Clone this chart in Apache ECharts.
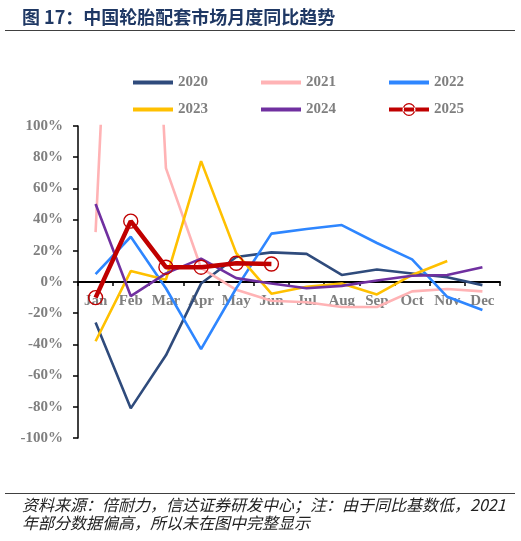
<!DOCTYPE html>
<html><head><meta charset="utf-8">
<script src="https://cdn.jsdelivr.net/npm/echarts@6/dist/echarts.min.js"></script>
<style>html,body{margin:0;padding:0;background:#fff}#c{width:521px;height:541px}</style>
</head><body><div id="c"></div>
<script>
var months = ['Jan','Feb','Mar','Apr','May','Jun','Jul','Aug','Sep','Oct','Nov','Dec'];
var yTicks = [-100,-80,-60,-40,-20,0,20,40,60,80,100];
var s2020 = [-26,-81,-47,-1,16,19,18,4.5,8,5.5,3,-2];
var s2021 = [32,500,73,9,-5,-12,-13,-16,-16,-6,-4.5,-6];
var s2022 = [5,29,-4,-43,-4,31,34,36.5,25,14.5,-9.5,-18];
var s2023 = [-38,7,1.5,77.5,18.5,-7.5,-3,-1,-8,4.5,13.5,null];
var s2024 = [50,-9,5.5,15,2.5,-1,-4,-2.5,1,4,4.5,9.5];
var s2025 = [-10,39,9.5,9.5,12,11.5,null,null,null,null,null,null];
var seriesNames = ['2020','2021','2022','2023','2024','2025'];
var colors = ['#2F4B7C','#FFB3B5','#2E86FF','#FFC000','#7030A0','#C00000'];

var chart = echarts.init(document.getElementById('c'), null, {renderer:'canvas'});
var serif = 'Liberation Serif';
var gray = '#7F7F7F';
var dataSets = [s2020,s2021,s2022,s2023,s2024,s2025];
var series = dataSets.map(function(d,i){
  var is25 = i===5;
  return {
    name: seriesNames[i], type:'line', data:d, clip:true,
    symbol: is25 ? 'circle' : 'none',
    symbolSize: 14, showSymbol: is25,
    lineStyle:{color:colors[i], width: is25 ? 4.5 : 2.6},
    itemStyle:{color:'rgba(0,0,0,0)', borderColor:colors[i], borderWidth:1.4},
    z: is25 ? 10 : 2+i,
    emphasis:{disabled:true}
  };
});
var lineIcon = 'path://M0,0L0.01,0L0,0.01ZM0,5L40,5L40,9L0,9ZM0,14L0.01,14L0,13.99Z';
var ringIcon = 'path://M0,0L0.01,0L0,0.01ZM0,5L40,5L40,9L0,9ZM26.5,7A6.5,6.5 0 1,0 13.5,7A6.5,6.5 0 1,0 26.5,7ZM25.2,7A5.2,5.2 0 1,1 14.8,7A5.2,5.2 0 1,1 25.2,7ZM0,14L0.01,14L0,13.99Z';
function legendItems(names){
  return names.map(function(n){ return {name:n, icon: n==='2025' ? ringIcon : lineIcon, itemStyle:{color:colors[seriesNames.indexOf(n)], borderWidth:0}}; });
}
var legendText = {fontFamily:serif, fontWeight:'bold', fontSize:15, color:gray, width:40};
chart.setOption({
  animation:false,
  color: colors,
  title:[{
    text:'图 17：中国轮胎配套市场月度同比趋势', left:17, top:3,
    textStyle:{fontFamily:'Noto Sans CJK SC', fontWeight:'bold', fontSize:18, color:'#1F3864'}
  },{
    text:'资料来源：倍耐力，信达证券研发中心；注：由于同比基数低，2021\n年部分数据偏高，所以未在图中完整显示', left:17, top:491,
    textStyle:{fontFamily:'Noto Sans CJK SC', fontWeight:'normal', fontSize:16, color:'#222', lineHeight:18, fontStyle:'italic'}
  }],
  graphic:[
    {type:'line', shape:{x1:5,y1:30.5,x2:515,y2:30.5}, style:{stroke:'#404040', lineWidth:1}},
    {type:'line', shape:{x1:5,y1:493.5,x2:515,y2:493.5}, style:{stroke:'#404040', lineWidth:1}}
  ],
  legend:[{
    left:128, top:70, itemWidth:40, itemHeight:14, itemGap:53,
    textStyle:legendText, data: legendItems(seriesNames.slice(0,3))
  },{
    left:128, top:97, itemWidth:40, itemHeight:14, itemGap:53,
    textStyle:legendText, data: legendItems(seriesNames.slice(3,6))
  }],
  grid:{left:78, right:21, top:126, bottom:103},
  xAxis:{
    type:'category', data:months, boundaryGap:true,
    offset:-156,
    axisLine:{onZero:false, lineStyle:{color:'#000', width:2}},
    axisTick:{show:true, inside:false, length:4, lineStyle:{color:'#000', width:1.5}},
    axisLabel:{interval:0, hideOverlap:false, fontFamily:serif, fontWeight:'bold', fontSize:15, color:gray, margin:12},
    splitLine:{show:false}
  },
  yAxis:{
    type:'value', min:yTicks[0], max:yTicks[yTicks.length-1], interval:20,
    axisLine:{show:true, lineStyle:{color:'#000', width:1.5}},
    axisTick:{show:true, length:5, lineStyle:{color:'#000', width:1.5}},
    axisLabel:{formatter:'{value}%', fontFamily:serif, fontWeight:'bold', fontSize:15, color:gray, margin:15},
    splitLine:{show:false}
  },
  series: series
});
</script></body></html>
